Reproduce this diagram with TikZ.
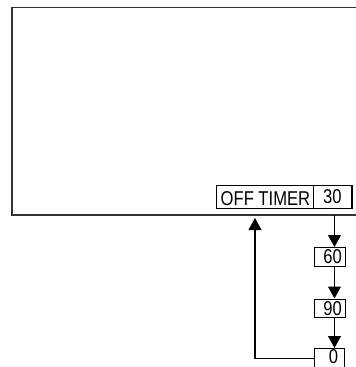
\documentclass[tikz,border=0pt]{standalone}
\usepackage{fontspec}
\setmainfont[FakeStretch=0.83]{Liberation Sans}
\usetikzlibrary{arrows.meta}
\begin{document}
\begin{tikzpicture}[x=1pt,y=-1pt,
  txt/.style={font=\fontsize{20}{20}\selectfont, inner sep=0pt},
  boxline/.style={line width=0.9pt},
  valbox/.style={draw, boxline, txt, minimum width=30.5pt, minimum height=18.5pt},
  flow/.style={line width=1.2pt, -{Triangle[width=13pt,length=12pt]}},
  screen/.style={draw=black!80, line width=1.8pt}]
\useasboundingbox (0,0) rectangle (356,367);
\clip (0,0) rectangle (356,367);
% screen
\draw[screen] (358,7.5) -- (12,7.5) -- (12,215) -- (358,215);
\coordinate (sb) at (334.5,215);
\coordinate (sbl) at (255,215);
% timer display
\node[draw, boxline, minimum width=136.5pt, minimum height=23pt, inner sep=0pt, anchor=north west] (timer) at (215.5,185) {};
\node[txt, anchor=base west] (offt) at (220.5,205.5) {OFF TIMER};
\node[valbox, minimum width=38.5pt, minimum height=22.5pt, anchor=north east] (n30) at (352,185) {\raisebox{-1.5pt}{30}};
% sequence boxes
\node[valbox, anchor=north west] (n60) at (314,247) {\hspace*{6pt}60};
\node[valbox, anchor=north west] (n90) at (314,298.5) {\hspace*{6pt}90};
\node[txt, anchor=north west, minimum width=30.5pt, minimum height=17.5pt] (n0) at (314,348) {\hspace*{8pt}0};
\draw[boxline] ([yshift=-8pt]n0.south west) -- (n0.north west) -- (n0.north east) -- ([yshift=-8pt]n0.south east);
\coordinate (a60) at (n60.north -| sb);
\coordinate (b60) at (n60.south -| sb);
\coordinate (a90) at (n90.north -| sb);
\coordinate (b90) at (n90.south -| sb);
\coordinate (a0) at (n0.north -| sb);
\draw[flow] (sb) -- (a60);
\draw[flow] (b60) -- (a90);
\draw[flow] (b90) -- (a0);
\draw[flow, shorten >=3pt] (n0.west |- 0,358.5) -- (255,358.5) -- (sbl);
\end{tikzpicture}
\end{document}
